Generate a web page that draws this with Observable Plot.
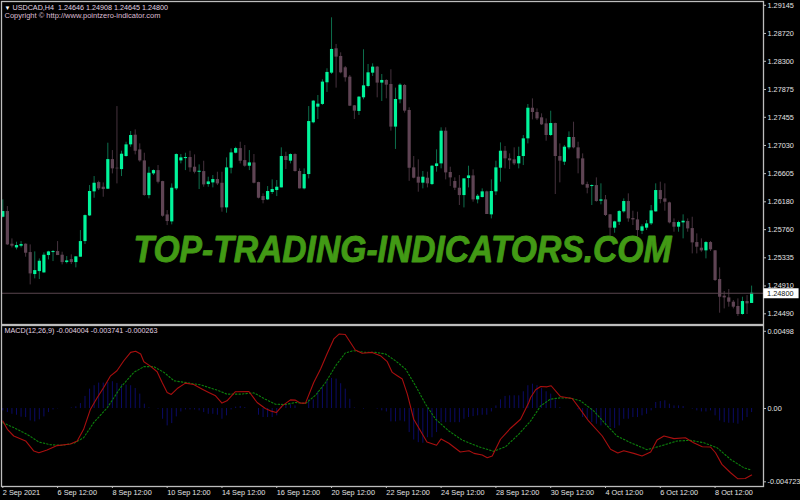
<!DOCTYPE html>
<html>
<head>
<meta charset="utf-8">
<script src="https://cdn.jsdelivr.net/npm/d3@7"></script>
<script src="https://cdn.jsdelivr.net/npm/@observablehq/plot@0.6"></script>
<style>
html,body{margin:0;padding:0;background:#000;width:800px;height:500px;overflow:hidden}
#c{display:block;line-height:0}
svg{display:block}
</style>
</head>
<body>
<div id="c"></div>
<script>
const highs=[1.26209,1.26108,1.25620,1.25570,1.25580,1.25545,1.25530,1.25424,1.25318,1.25409,
1.25434,1.25444,1.25580,1.25419,1.25354,1.25379,1.25354,1.25746,1.25982,1.26425,
1.26561,1.26490,1.26465,1.27064,1.26953,1.27617,1.26943,1.27079,1.27240,1.27265,
1.27054,1.26913,1.26702,1.26661,1.26727,1.26490,1.26048,1.26450,1.26903,1.26893,
1.26913,1.26943,1.26888,1.26737,1.26792,1.26551,1.26576,1.26626,1.26626,1.26843,
1.26978,1.27003,1.27079,1.27029,1.26953,1.26893,1.26475,1.26300,1.26410,1.26511,
1.26501,1.26994,1.26928,1.26903,1.26903,1.26677,1.26677,1.27617,1.27709,1.27784,
1.28021,1.28187,1.28956,1.28554,1.28428,1.28222,1.28086,1.27633,1.27769,1.28474,
1.28252,1.28262,1.28222,1.28101,1.28021,1.28172,1.27895,1.27961,1.27950,1.27598,
1.26863,1.26813,1.26637,1.26627,1.26727,1.26964,1.27296,1.27296,1.26702,1.26541,
1.26576,1.26526,1.26717,1.26662,1.26290,1.26375,1.26340,1.26511,1.26793,1.27069,
1.27014,1.26903,1.26994,1.27004,1.27180,1.27648,1.27733,1.27582,1.27507,1.27431,
1.27547,1.27366,1.27054,1.27029,1.27235,1.27381,1.27079,1.26903,1.26476,1.26435,
1.26541,1.26451,1.26275,1.25988,1.25887,1.26048,1.26224,1.26300,1.26038,1.26023,
1.25832,1.25897,1.26124,1.26451,1.26476,1.26451,1.26174,1.25922,1.25887,1.25983,
1.25922,1.25947,1.25696,1.25621,1.25580,1.25580,1.25445,1.25183,1.24826,1.24856,
1.24690,1.24715,1.24740,1.24765,1.24908];
const lows=[1.25937,1.25520,1.25484,1.25454,1.25484,1.25344,1.24926,1.25017,1.25007,1.25102,
1.25303,1.25278,1.25369,1.25228,1.25243,1.25233,1.25183,1.25344,1.25535,1.25957,
1.26234,1.26350,1.26249,1.26365,1.26601,1.26450,1.26561,1.26853,1.27003,1.26888,
1.26777,1.26264,1.26224,1.26576,1.26450,1.25947,1.25821,1.25832,1.26350,1.26752,
1.26651,1.26626,1.26601,1.26365,1.26400,1.26400,1.26390,1.26425,1.26023,1.26008,
1.26601,1.26903,1.26752,1.26702,1.26651,1.26450,1.26224,1.26149,1.26199,1.26290,
1.26259,1.26390,1.26667,1.26752,1.26627,1.26375,1.26360,1.26526,1.27357,1.27422,
1.27634,1.27830,1.28101,1.27895,1.28111,1.27986,1.27618,1.27422,1.27483,1.27719,
1.27900,1.28071,1.27749,1.27694,1.27734,1.27246,1.26970,1.27659,1.27518,1.26489,
1.26526,1.26325,1.26375,1.26390,1.26425,1.26627,1.26677,1.26511,1.26410,1.26350,
1.26124,1.26088,1.26390,1.26174,1.26149,1.26239,1.25988,1.25922,1.26274,1.26476,
1.26677,1.26667,1.26727,1.26677,1.26727,1.27054,1.27416,1.27406,1.27331,1.27094,
1.27165,1.26290,1.26466,1.26727,1.26964,1.26979,1.26602,1.26425,1.26300,1.26124,
1.26174,1.26134,1.25958,1.25646,1.25706,1.25822,1.26008,1.25872,1.25822,1.25646,
1.25686,1.25746,1.25822,1.26023,1.26149,1.26038,1.25847,1.25721,1.25721,1.25621,
1.25721,1.25394,1.25394,1.25419,1.25319,1.25430,1.24977,1.24499,1.24564,1.24590,
1.24564,1.24449,1.24469,1.24479,1.24645];
const opens=[1.25947,1.26033,1.25540,1.25484,1.25510,1.25540,1.25414,1.25082,1.25127,1.25107,
1.25369,1.25414,1.25429,1.25374,1.25263,1.25308,1.25263,1.25344,1.25580,1.25967,
1.26330,1.26470,1.26400,1.26370,1.26817,1.26687,1.26666,1.26863,1.27039,1.27185,
1.26963,1.26797,1.26274,1.26601,1.26651,1.26485,1.25982,1.25877,1.26375,1.26797,
1.26832,1.26848,1.26702,1.26626,1.26636,1.26440,1.26465,1.26516,1.26460,1.26088,
1.26687,1.26913,1.26983,1.26802,1.26717,1.26767,1.26470,1.26259,1.26209,1.26320,
1.26350,1.26390,1.26863,1.26793,1.26893,1.26637,1.26375,1.26591,1.27372,1.27608,
1.27649,1.27976,1.28121,1.28489,1.28373,1.28202,1.28061,1.27628,1.27543,1.27749,
1.27920,1.28121,1.28212,1.27971,1.28011,1.27950,1.27307,1.27719,1.27935,1.27558,
1.26692,1.26551,1.26461,1.26536,1.26440,1.26712,1.26752,1.27245,1.26622,1.26486,
1.26385,1.26274,1.26531,1.26571,1.26209,1.26244,1.26330,1.25983,1.26330,1.26687,
1.26943,1.26828,1.26813,1.26752,1.26863,1.27130,1.27592,1.27527,1.27447,1.27356,
1.27180,1.27361,1.26863,1.26778,1.26994,1.27150,1.26994,1.26828,1.26440,1.26410,
1.26425,1.26189,1.26209,1.25983,1.25782,1.25872,1.26028,1.26184,1.25927,1.25907,
1.25736,1.25782,1.25847,1.26028,1.26350,1.26224,1.26164,1.25867,1.25797,1.25862,
1.25882,1.25776,1.25565,1.25480,1.25440,1.25565,1.25440,1.25007,1.24756,1.24730,
1.24665,1.24600,1.24479,1.24675,1.24646];
const closes=[1.26033,1.25530,1.25510,1.25520,1.25535,1.25404,1.25092,1.25142,1.25283,1.25374,
1.25424,1.25429,1.25369,1.25263,1.25288,1.25263,1.25349,1.25580,1.25972,1.26335,
1.26460,1.26375,1.26365,1.26817,1.26677,1.26677,1.26898,1.27039,1.27180,1.26943,
1.26797,1.26274,1.26611,1.26651,1.26475,1.25962,1.25882,1.26385,1.26893,1.26843,
1.26848,1.26692,1.26626,1.26641,1.26435,1.26480,1.26516,1.26450,1.26088,1.26692,
1.26918,1.26983,1.26792,1.26717,1.26767,1.26460,1.26234,1.26199,1.26335,1.26365,
1.26400,1.26863,1.26803,1.26893,1.26637,1.26375,1.26591,1.27391,1.27699,1.27654,
1.27986,1.28132,1.28479,1.28363,1.28126,1.28051,1.27623,1.27548,1.27759,1.27930,
1.28126,1.28212,1.27971,1.28011,1.27940,1.27307,1.27724,1.27940,1.27548,1.26686,
1.26536,1.26461,1.26551,1.26451,1.26717,1.26752,1.27245,1.26616,1.26541,1.26385,
1.26274,1.26526,1.26571,1.26209,1.26264,1.26330,1.25988,1.26335,1.26692,1.26943,
1.26828,1.26798,1.26752,1.26863,1.27130,1.27592,1.27527,1.27431,1.27341,1.27180,
1.27361,1.26863,1.26793,1.27004,1.27150,1.26994,1.26828,1.26435,1.26385,1.26425,
1.26184,1.26209,1.25973,1.25782,1.25877,1.26033,1.26184,1.25922,1.25907,1.25746,
1.25802,1.25847,1.26043,1.26350,1.26214,1.26174,1.25862,1.25797,1.25867,1.25887,
1.25771,1.25560,1.25495,1.25440,1.25565,1.25455,1.24992,1.24740,1.24730,1.24665,
1.24590,1.24479,1.24675,1.24640,1.24800];

const histogram=[-0.00015,-0.00026,-0.00037,-0.00043,-0.00056,-0.00058,-0.00080,-0.00086,-0.00073,-0.00054,
-0.00026,-0.00009,-0.00002,0,0,0.00004,0.00011,0.00032,0.00078,0.00125,
0.00147,0.00164,0.00164,0.00168,0.00173,0.00162,0.00153,0.00151,0.00147,0.00129,
0.00093,0.00028,0.00004,0,-0.00004,-0.00069,-0.00112,-0.00097,-0.00054,-0.00022,
-0.00009,-0.00009,-0.00009,-0.00015,-0.00026,-0.00037,-0.00037,-0.00043,-0.00069,-0.00047,
-0.00009,0.00009,0.00013,0.00006,0,0,-0.00043,-0.00058,-0.00058,-0.00058,
-0.00047,0.00013,0.00022,0.00024,0.00017,0,0,0.00056,0.00056,0.00110,
0.00140,0.00177,0.00194,0.00190,0.00160,0.00125,0.00060,0.00004,0,-0.00004,
0,0,-0.00004,-0.00015,-0.00022,-0.00086,-0.00086,-0.00080,-0.00086,-0.00155,
-0.00203,-0.00220,-0.00224,-0.00188,-0.00188,-0.00155,-0.00091,-0.00091,-0.00091,-0.00091,
-0.00091,-0.00069,-0.00058,-0.00052,-0.00047,-0.00043,-0.00043,-0.00022,0.00017,0.00056,
0.00078,0.00082,0.00082,0.00082,0.00108,0.00147,0.00157,0.00147,0.00129,0.00108,
0.00093,0.00056,0.00006,0,0,0,-0.00009,-0.00058,-0.00069,-0.00091,
-0.00101,-0.00112,-0.00112,-0.00123,-0.00129,-0.00112,-0.00069,-0.00069,-0.00058,-0.00058,
-0.00047,-0.00037,-0.00015,0.00039,0.00045,0.00050,0.00028,0.00017,0.00017,0.00013,
0,-0.00004,-0.00015,-0.00022,-0.00022,-0.00015,-0.00047,-0.00080,-0.00091,-0.00095,
-0.00095,-0.00101,-0.00080,-0.00058,-0.00026];

const macdBars=[0,1,2.4,5,6.8,7.9,9.7,11.9,14.8,16.3,17.7,19.2,20.7,22.1,23.6,25,26.5,28,29.1,30.2,30.9,32.4,33.8,34.9,36,36.9,38.2,40,41.8,43.7,45.1,46.6,48,49.1,50.9,53.9,55.7,57.5,
58.6,59.9,61.2,63,64.1,65.2,66.3,68.1,69.6,71,72.5,73.7,75,76.1,77.2,78.7,80.9,82.7,84.2,85.3,86.4,87.5,88.6,90,91.5,92.9,95,96,97.7,100.2,102.1,103.2,105,106.1,107.2,109,111.2,113.4,115.2,115.6,
116.7,117.8,119.2,120.1,122.1,124.7,126.2,128.3,131.3,133.1,134.7,136,138.2,140,141.9,143.3,144.8,147,149.5,151.3,153.2,155,156.1,157.5,159.4,161,162.6,164];
const macdValues=[-0.00080,-0.00134,-0.00177,-0.00209,-0.00274,-0.00285,-0.00267,-0.00239,-0.00229,-0.00209,-0.00134,-0.00004,0.00071,0.00136,0.00211,0.00244,0.00308,0.00362,0.00369,0.00352,0.00302,0.00272,0.00237,0.00168,0.00104,0.00091,0.00129,0.00164,0.00155,0.00125,0.00104,0.00082,0.00035,0.00050,0.00108,0.00110,0.00039,0,
-0.00015,-0.00026,0.00017,0.00056,0.00054,0.00035,0.00035,0.00168,0.00255,0.00352,0.00449,0.00481,0.00477,0.00427,0.00377,0.00356,0.00362,0.00341,0.00302,0.00233,0.00211,0.00190,0.00093,-0.00069,-0.00145,-0.00216,-0.00237,-0.00196,-0.00224,-0.00280,-0.00272,-0.00289,-0.00300,-0.00317,-0.00306,-0.00198,-0.00127,-0.00069,0.00039,0.00071,
0.00121,0.00142,0.00140,0.00147,0.00078,0.00065,0.00006,-0.00080,-0.00177,-0.00263,-0.00287,-0.00272,-0.00289,-0.00306,-0.00280,-0.00203,-0.00177,-0.00194,-0.00188,-0.00220,-0.00246,-0.00248,-0.00285,-0.00360,-0.00414,-0.00453,-0.00451,-0.00429];

const signalBars=[0,2.4,5.3,7.9,10.4,13,15.6,17.7,19.9,22.9,25.8,28.7,30.9,33.1,35.3,37.5,40.4,43.3,46.9,49.1,52.1,55,57.5,59.7,61.9,64.1,66.3,68.5,70.7,72.9,75,76.7,79.4,81.6,83.8,86,88.2,90.4,92.6,94.8,97.7,100.6,104.2,107.5,110.1,113,115.6,117.8,119.9,122.1,124.3,126.5,129.4,132.4,134.5,137.5,141.1,144,147.7,150.6,153.5,156.4,159.4,162.3,164];
const signalValues=[-0.00091,-0.00123,-0.00166,-0.00216,-0.00233,-0.00237,-0.00224,-0.00188,-0.00091,0.00006,0.00136,0.00233,0.00270,0.00270,0.00233,0.00179,0.00166,0.00153,0.00119,0.00093,0.00093,0.00101,0.00060,0.00028,0.00026,0.00039,0.00032,0.00086,0.00168,0.00276,0.00358,0.00373,0.00362,0.00362,0.00352,0.00308,0.00255,0.00147,0.00028,-0.00069,-0.00145,-0.00203,-0.00246,-0.00276,-0.00246,-0.00166,-0.00080,0.00017,0.00060,0.00069,0.00067,0.00050,-0.00015,-0.00112,-0.00177,-0.00220,-0.00265,-0.00242,-0.00209,-0.00205,-0.00220,-0.00252,-0.00328,-0.00382,-0.00397];

const priceTicks=[1.29145,1.2872,1.283,1.27875,1.27455,1.2703,1.26605,1.2618,1.2576,1.25335,1.2491,1.2449];
const macdTicks=[0.00498,0,-0.004723];
const macdTickLabels=["0.00498","0.00","-0.004723"];
const dateTicks=[0,12,24,36,48,60,72,84,96,108,120,132,144,156];
const dateLabels=["2 Sep 2021","6 Sep 12:00","8 Sep 12:00","10 Sep 12:00","14 Sep 12:00","16 Sep 12:00","20 Sep 12:00","22 Sep 12:00","24 Sep 12:00","28 Sep 12:00","30 Sep 12:00","4 Oct 12:00","6 Oct 12:00","8 Oct 12:00"];
const currentPrice=1.248;

const headLine="USDCAD,H4  1.24646 1.24908 1.24645 1.24800";
const copyLine="Copyright © http://www.pointzero-indicator.com";
const macdLine="MACD(12,26,9) -0.004004 -0.003741 -0.000263";
const watermark="TOP-TRADING-INDICATORS.COM";

const bars=d3.range(highs.length).map(i=>({i,o:opens[i],h:highs[i],l:lows[i],c:closes[i]}));
const ups=bars.filter(b=>b.c>=b.o), downs=bars.filter(b=>b.c<b.o);
const macdPts=macdBars.map((i,k)=>({i,v:macdValues[k]}));
const sigPts=signalBars.map((i,k)=>({i,v:signalValues[k]}));
const histPts=histogram.map((v,i)=>({i,v}));

const font="'Liberation Sans',sans-serif";
const style={background:"#000",fontFamily:font,fontSize:"7.3px",color:"#e2e2e2",overflow:"visible"};
const frameColor="#bdbdbd";
const xScale={domain:[0,164],range:[2.3,751.1],axis:null};

const pricePanel=Plot.plot({
  width:800,height:325,marginLeft:1,marginRight:37,marginTop:1,marginBottom:1,style,
  x:xScale,
  y:{domain:[1.2449,1.29145],range:[313.3,4.8],axis:null},
  marks:[
    Plot.ruleX(ups,{x:"i",y1:"l",y2:"h",stroke:"#0d6e4c",strokeWidth:1}),
    Plot.ruleX(downs,{x:"i",y1:"l",y2:"h",stroke:"#46323e",strokeWidth:1}),
    Plot.ruleX(ups,{x:"i",y1:"o",y2:"c",stroke:"#00f59b",strokeWidth:3.2}),
    Plot.ruleX(downs,{x:"i",y1:"o",y2:"c",stroke:"#5f4454",strokeWidth:3.2}),
    Plot.ruleY([currentPrice],{stroke:"#5a464f",strokeWidth:1}),
    Plot.text([watermark],{frameAnchor:"top-left",dx:132,dy:249,text:d=>d,textAnchor:"start",lineAnchor:"middle",fill:"#429a15",stroke:"#429a15",strokeWidth:0.9,fontSize:36,fontWeight:"bold",fontStyle:"italic",fontFamily:"'Liberation Sans',sans-serif",className:"wm"}),
    Plot.frame({stroke:frameColor,strokeWidth:1.3}),
    Plot.axisY({anchor:"right",label:null,ticks:priceTicks,tickFormat:d=>d.toFixed(5),tickSize:2,tickPadding:2,fill:"#e2e2e2",stroke:frameColor,fontSize:7.3}),
    Plot.ruleY([currentPrice],{x1:166.7,x2:174.4,stroke:"#fff",strokeWidth:10}),
    Plot.text([currentPrice],{x:167.4,y:d=>d,text:d=>d.toFixed(5),textAnchor:"start",fill:"#111",fontSize:7.3}),
    Plot.text(["▼"],{frameAnchor:"top-left",dx:3,dy:4,text:d=>d,fill:"#fff",fontSize:6,lineAnchor:"top",textAnchor:"start"}),
    Plot.text([headLine],{frameAnchor:"top-left",dx:11,dy:3,text:d=>d,fill:"#e0d4e0",fontSize:7.2,lineAnchor:"top",textAnchor:"start"}),
    Plot.text([copyLine],{frameAnchor:"top-left",dx:3,dy:11,text:d=>d,fill:"#dcbcd2",fontSize:7.5,lineAnchor:"top",textAnchor:"start"})
  ]
});
const wmText=pricePanel.querySelector(".wm text")||pricePanel.querySelector("g.wm text");
if(wmText){wmText.setAttribute("textLength","538");wmText.setAttribute("lengthAdjust","spacingAndGlyphs");}

const macdPanel=Plot.plot({
  width:800,height:175,marginLeft:1,marginRight:37,marginTop:0,marginBottom:14,style,
  x:xScale,
  y:{domain:[-0.004723,0.00498],range:[156.3,5.8],axis:null},
  marks:[
    Plot.ruleX(histPts,{x:"i",y1:0,y2:"v",stroke:"#0b0b66",strokeWidth:1}),
    Plot.line(sigPts,{x:"i",y:"v",stroke:"#0c800c",strokeWidth:1.1,strokeDasharray:"1.5,2"}),
    Plot.line(macdPts,{x:"i",y:"v",stroke:"#a80f0f",strokeWidth:1.1}),
    Plot.frame({stroke:frameColor,strokeWidth:1.3}),
    Plot.axisY({anchor:"right",label:null,ticks:macdTicks,tickFormat:d=>macdTickLabels[macdTicks.indexOf(d)],tickSize:2,tickPadding:2,fill:"#e2e2e2",stroke:frameColor,fontSize:7.3}),
    Plot.axisX({anchor:"bottom",label:null,ticks:dateTicks,tickFormat:d=>dateLabels[dateTicks.indexOf(d)],tickSize:2,tickPadding:1,textAnchor:"start",fill:"#e2e2e2",stroke:frameColor,lineAnchor:"top",fontSize:7.3}),
    Plot.text([macdLine],{frameAnchor:"top-left",dx:3,dy:2,text:d=>d,fill:"#e0d4e0",fontSize:7.2,lineAnchor:"top",textAnchor:"start"})
  ]
});
document.getElementById("c").append(pricePanel,macdPanel);
</script>
</body>
</html>
